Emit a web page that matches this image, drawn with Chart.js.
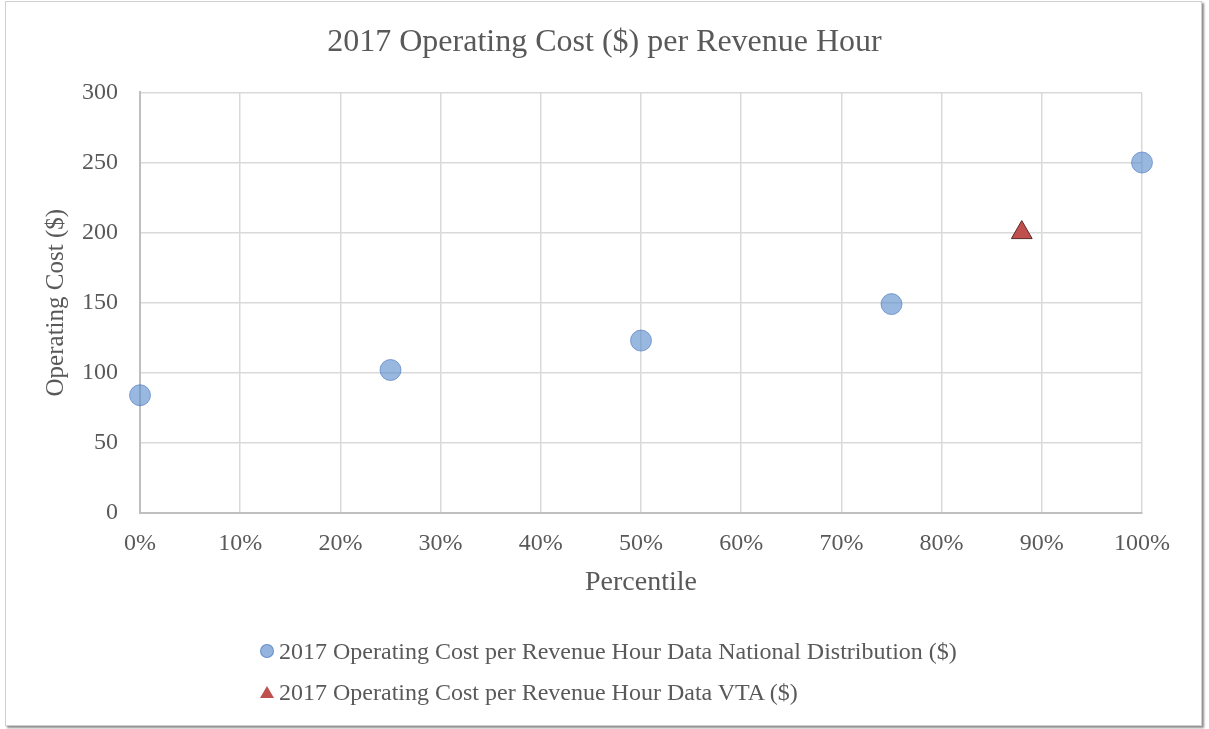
<!DOCTYPE html>
<html>
<head>
<meta charset="utf-8">
<script src="https://cdn.jsdelivr.net/npm/chart.js@4/dist/chart.umd.min.js"></script>
<style>
  html, body { margin: 0; padding: 0; background: #fff; }
  body { width: 1209px; height: 729px; position: relative; overflow: hidden; }
  #frame {
    position: absolute; left: 5px; top: 1px; width: 1195px; height: 723px;
    border: 1px solid #d0d0d0; box-shadow: 2px 2px 2px rgba(0,0,0,0.45); background: #fff;
  }
  #chartCanvas { position: absolute; left: 0; top: 0; }
  #legend {
    position: absolute; left: 260px; top: 633px;
    font-family: "Liberation Serif", "Times New Roman", serif; font-size: 24px; color: #595959;
  }
  .item { height: 41px; line-height: 36px; white-space: nowrap; }
  .dot { display: inline-block; width: 12px; height: 12px; border-radius: 50%;
         background: rgba(91,140,205,0.65); border: 1px solid rgba(70,114,190,0.6);
         margin-right: 5px; vertical-align: 1px; }
  .tri { display: inline-block; width: 0; height: 0; margin-right: 5px; vertical-align: 2px;
         border-left: 7px solid transparent; border-right: 7px solid transparent;
         border-bottom: 12px solid #c0504d; }
</style>
</head>
<body>
<div id="frame"></div>
<canvas id="chartCanvas" width="1209" height="729"></canvas>
<div id="legend"></div>
<script>
const chartTitle = '2017 Operating Cost ($) per Revenue Hour';
const nationalLabel = '2017 Operating Cost per Revenue Hour Data National Distribution ($)';
const vtaLabel = '2017 Operating Cost per Revenue Hour Data VTA ($)';

// percentile (%) and cost ($)
const nationalPct = [0, 25, 50, 75, 100];
const nationalCost = [84, 102, 123, 149, 250];
const vtaPct = [88];
const vtaCost = [200];

const textColor = '#595959';
const serif = '"Liberation Serif", "Times New Roman", serif';

function toPoints(xs, ys) {
    return xs.map((x, i) => ({ x: x, y: ys[i] }));
}

const ctx = document.getElementById('chartCanvas').getContext('2d');
const chart = new Chart(ctx, {
    type: 'scatter',
    data: {
        datasets: [{
            label: nationalLabel,
            data: toPoints(nationalPct, nationalCost),
            pointStyle: 'circle',
            pointRadius: 10.5,
            pointHoverRadius: 10.5,
            backgroundColor: 'rgba(91,140,205,0.62)',
            borderColor: 'rgba(70,114,190,0.6)',
            borderWidth: 1,
            clip: false
        }, {
            label: vtaLabel,
            data: toPoints(vtaPct, vtaCost),
            pointStyle: 'triangle',
            pointRadius: 12,
            pointHoverRadius: 12,
            backgroundColor: '#c0504d',
            borderColor: '#5e2b2a',
            borderWidth: 1,
            clip: false
        }]
    },
    options: {
        responsive: false,
        animation: false,
        layout: { padding: { left: 0, right: 0, top: 0, bottom: 116 } },
        plugins: {
            legend: { display: false },
            tooltip: { enabled: false },
            title: {
                display: true,
                text: chartTitle,
                color: textColor,
                font: { family: serif, size: 32, weight: 'normal' },
                padding: { top: 23, bottom: 31 }
            }
        },
        scales: {
            x: {
                type: 'linear',
                min: 0, max: 100,
                ticks: {
                    stepSize: 10,
                    color: textColor,
                    font: { family: serif, size: 24 },
                    padding: 16,
                    callback: v => v + '%'
                },
                grid: { color: '#d9d9d9', lineWidth: 1.5, drawTicks: false },
                border: { color: '#bfbfbf', width: 2 },
                title: {
                    display: true,
                    text: 'Percentile',
                    color: textColor,
                    font: { family: serif, size: 28 },
                    padding: { top: 0, bottom: 14 }
                },
                afterFit: s => { s.height = 100; }
            },
            y: {
                min: 0, max: 300,
                ticks: {
                    stepSize: 50,
                    color: textColor,
                    font: { family: serif, size: 24 },
                    padding: 22
                },
                grid: { color: '#d9d9d9', lineWidth: 1.5, drawTicks: false },
                border: { color: '#bfbfbf', width: 2 },
                title: {
                    display: true,
                    text: 'Operating Cost ($)',
                    color: textColor,
                    font: { family: serif, size: 25 },
                    padding: { top: 41, bottom: 0 }
                },
                afterFit: s => { s.width = 140; }
            },
            // empty right axis, only keeps the right margin so the title centers on the page
            yRight: {
                position: 'right',
                min: 0, max: 300,
                ticks: { display: false },
                grid: { display: false },
                border: { display: false },
                afterFit: s => { s.width = 67; }
            }
        }
    }
});

// html legend built from the datasets
const legendDiv = document.getElementById('legend');
chart.data.datasets.forEach(ds => {
    const row = document.createElement('div');
    row.className = 'item';
    const mark = document.createElement('span');
    mark.className = ds.pointStyle === 'triangle' ? 'tri' : 'dot';
    row.appendChild(mark);
    row.appendChild(document.createTextNode(ds.label));
    legendDiv.appendChild(row);
});
</script>
</body>
</html>
